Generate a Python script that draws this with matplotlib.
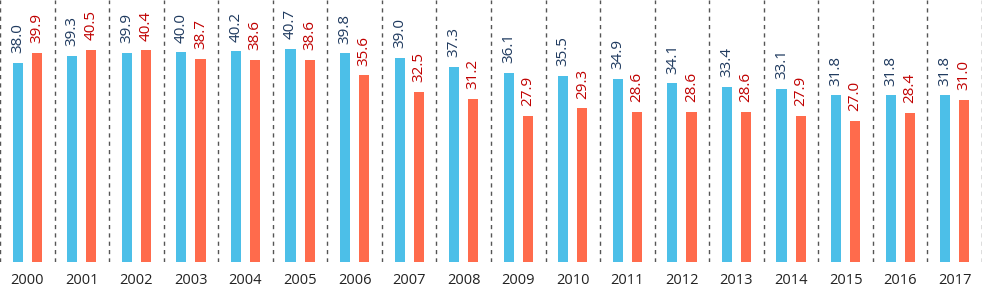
import matplotlib
matplotlib.use("Agg")
import matplotlib.pyplot as plt
import numpy as np

plt.rcParams["font.family"] = ["Open Sans", "DejaVu Sans"]

anios = [str(a) for a in range(2000, 2018)]
serie_azul = [38.0, 39.3, 39.9, 40.0, 40.2, 40.7, 39.8, 39.0, 37.3, 36.1,
              35.5, 34.9, 34.1, 33.4, 33.1, 31.8, 31.8, 31.8]
serie_naranja = [39.9, 40.5, 40.4, 38.7, 38.6, 38.6, 35.6, 32.5, 31.2, 27.9,
                 29.3, 28.6, 28.6, 28.6, 27.9, 27.0, 28.4, 31.0]

COLOR_AZUL = "#4CBFE8"
COLOR_NARANJA = "#FF6B4C"
TEXTO_AZUL = "#1F3A5F"
TEXTO_NARANJA = "#C00000"

fig = plt.figure(figsize=(9.82, 2.90), dpi=100)
ax = fig.add_axes([0, 28 / 290, 1, 262 / 290])

x = np.arange(len(anios))
ancho = 0.185
desp = 0.175

barras_a = ax.bar(x - desp, serie_azul, ancho, color=COLOR_AZUL)
barras_n = ax.bar(x + desp, serie_naranja, ancho, color=COLOR_NARANJA)

for barras, valores, color in [(barras_a, serie_azul, TEXTO_AZUL),
                                (barras_n, serie_naranja, TEXTO_NARANJA)]:
    for b, v in zip(barras, valores):
        ax.annotate(f"{v:.1f}", (b.get_x() + b.get_width() / 2, v),
                    xytext=(0, 7), textcoords="offset points",
                    rotation=90, ha="center", va="bottom",
                    fontsize=11, color=color)

# separadores punteados entre grupos
for i in range(len(anios) + 1):
    ax.axvline(i - 0.5, color="#555555", linestyle=(0, (3, 3)), linewidth=1)

ax.set_xlim(-0.5, len(anios) - 0.5)
ax.set_ylim(0, 50)
ax.set_xticks(x)
ax.set_xticklabels(anios, fontsize=10.5, color="#222222")
ax.tick_params(axis="x", length=0, pad=8)
ax.set_yticks([])
for lado in ax.spines.values():
    lado.set_visible(False)

fig.savefig("out.png", dpi=100)
